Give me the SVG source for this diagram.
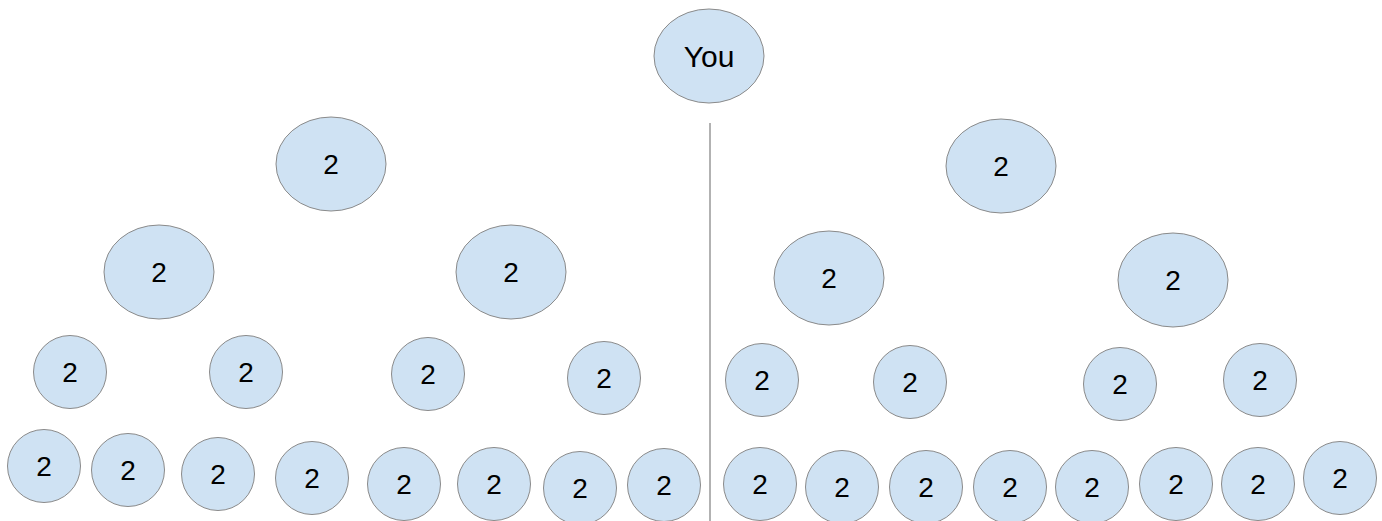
<svg xmlns="http://www.w3.org/2000/svg" width="1382" height="521" viewBox="0 0 1382 521">
<style>
.n{fill:#cfe2f3;stroke:#8a8a8a;stroke-width:1}
.t{font-family:"Liberation Sans",Arial,sans-serif;font-size:28px;fill:#000;text-anchor:middle}
.y{font-size:30px}
.c{stroke:#999;stroke-width:1.5;fill:none}
</style>
<rect width="1382" height="521" fill="#fff"/>
<g id="connectors"><line class="c" x1="710" y1="123" x2="710" y2="521"/></g>
<g id="you"><ellipse class="n" cx="709" cy="56" rx="55" ry="47"/><text class="t y" x="709" y="67">You</text></g>
<g id="l1a"><ellipse class="n" cx="331" cy="164" rx="55" ry="47"/><text class="t" x="331" y="174">2</text></g>
<g id="l1b"><ellipse class="n" cx="1001" cy="166" rx="55" ry="47"/><text class="t" x="1001" y="176">2</text></g>
<g id="l2a"><ellipse class="n" cx="159" cy="272" rx="55" ry="47"/><text class="t" x="159" y="282">2</text></g>
<g id="l2b"><ellipse class="n" cx="511" cy="272" rx="55" ry="47"/><text class="t" x="511" y="282">2</text></g>
<g id="l2c"><ellipse class="n" cx="829" cy="278" rx="55" ry="47"/><text class="t" x="829" y="288">2</text></g>
<g id="l2d"><ellipse class="n" cx="1173" cy="280" rx="55" ry="47"/><text class="t" x="1173" y="290">2</text></g>
<g id="l3a"><circle class="n" cx="70" cy="372" r="36.5"/><text class="t" x="70" y="382">2</text></g>
<g id="l3b"><circle class="n" cx="246" cy="372" r="36.5"/><text class="t" x="246" y="382">2</text></g>
<g id="l3c"><circle class="n" cx="428" cy="374" r="36.5"/><text class="t" x="428" y="384">2</text></g>
<g id="l3d"><circle class="n" cx="604" cy="378" r="36.5"/><text class="t" x="604" y="388">2</text></g>
<g id="l3e"><circle class="n" cx="762" cy="380" r="36.5"/><text class="t" x="762" y="390">2</text></g>
<g id="l3f"><circle class="n" cx="910" cy="382" r="36.5"/><text class="t" x="910" y="392">2</text></g>
<g id="l3g"><circle class="n" cx="1120" cy="384" r="36.5"/><text class="t" x="1120" y="394">2</text></g>
<g id="l3h"><circle class="n" cx="1260" cy="380" r="36.5"/><text class="t" x="1260" y="390">2</text></g>
<g id="l4a"><circle class="n" cx="44" cy="466" r="36.5"/><text class="t" x="44" y="476">2</text></g>
<g id="l4b"><circle class="n" cx="128" cy="470" r="36.5"/><text class="t" x="128" y="480">2</text></g>
<g id="l4c"><circle class="n" cx="218" cy="474" r="36.5"/><text class="t" x="218" y="484">2</text></g>
<g id="l4d"><circle class="n" cx="312" cy="478" r="36.5"/><text class="t" x="312" y="488">2</text></g>
<g id="l4e"><circle class="n" cx="404" cy="484" r="36.5"/><text class="t" x="404" y="494">2</text></g>
<g id="l4f"><circle class="n" cx="494" cy="484" r="36.5"/><text class="t" x="494" y="494">2</text></g>
<g id="l4g"><circle class="n" cx="580" cy="488" r="36.5"/><text class="t" x="580" y="498">2</text></g>
<g id="l4h"><circle class="n" cx="664" cy="485" r="36.5"/><text class="t" x="664" y="495">2</text></g>
<g id="l4i"><circle class="n" cx="760" cy="484" r="36.5"/><text class="t" x="760" y="494">2</text></g>
<g id="l4j"><circle class="n" cx="842" cy="487" r="36.5"/><text class="t" x="842" y="497">2</text></g>
<g id="l4k"><circle class="n" cx="926" cy="487" r="36.5"/><text class="t" x="926" y="497">2</text></g>
<g id="l4l"><circle class="n" cx="1010" cy="487" r="36.5"/><text class="t" x="1010" y="497">2</text></g>
<g id="l4m"><circle class="n" cx="1092" cy="487" r="36.5"/><text class="t" x="1092" y="497">2</text></g>
<g id="l4n"><circle class="n" cx="1176" cy="484" r="36.5"/><text class="t" x="1176" y="494">2</text></g>
<g id="l4o"><circle class="n" cx="1258" cy="484" r="36.5"/><text class="t" x="1258" y="494">2</text></g>
<g id="l4p"><circle class="n" cx="1340" cy="478" r="36.5"/><text class="t" x="1340" y="488">2</text></g>
</svg>
